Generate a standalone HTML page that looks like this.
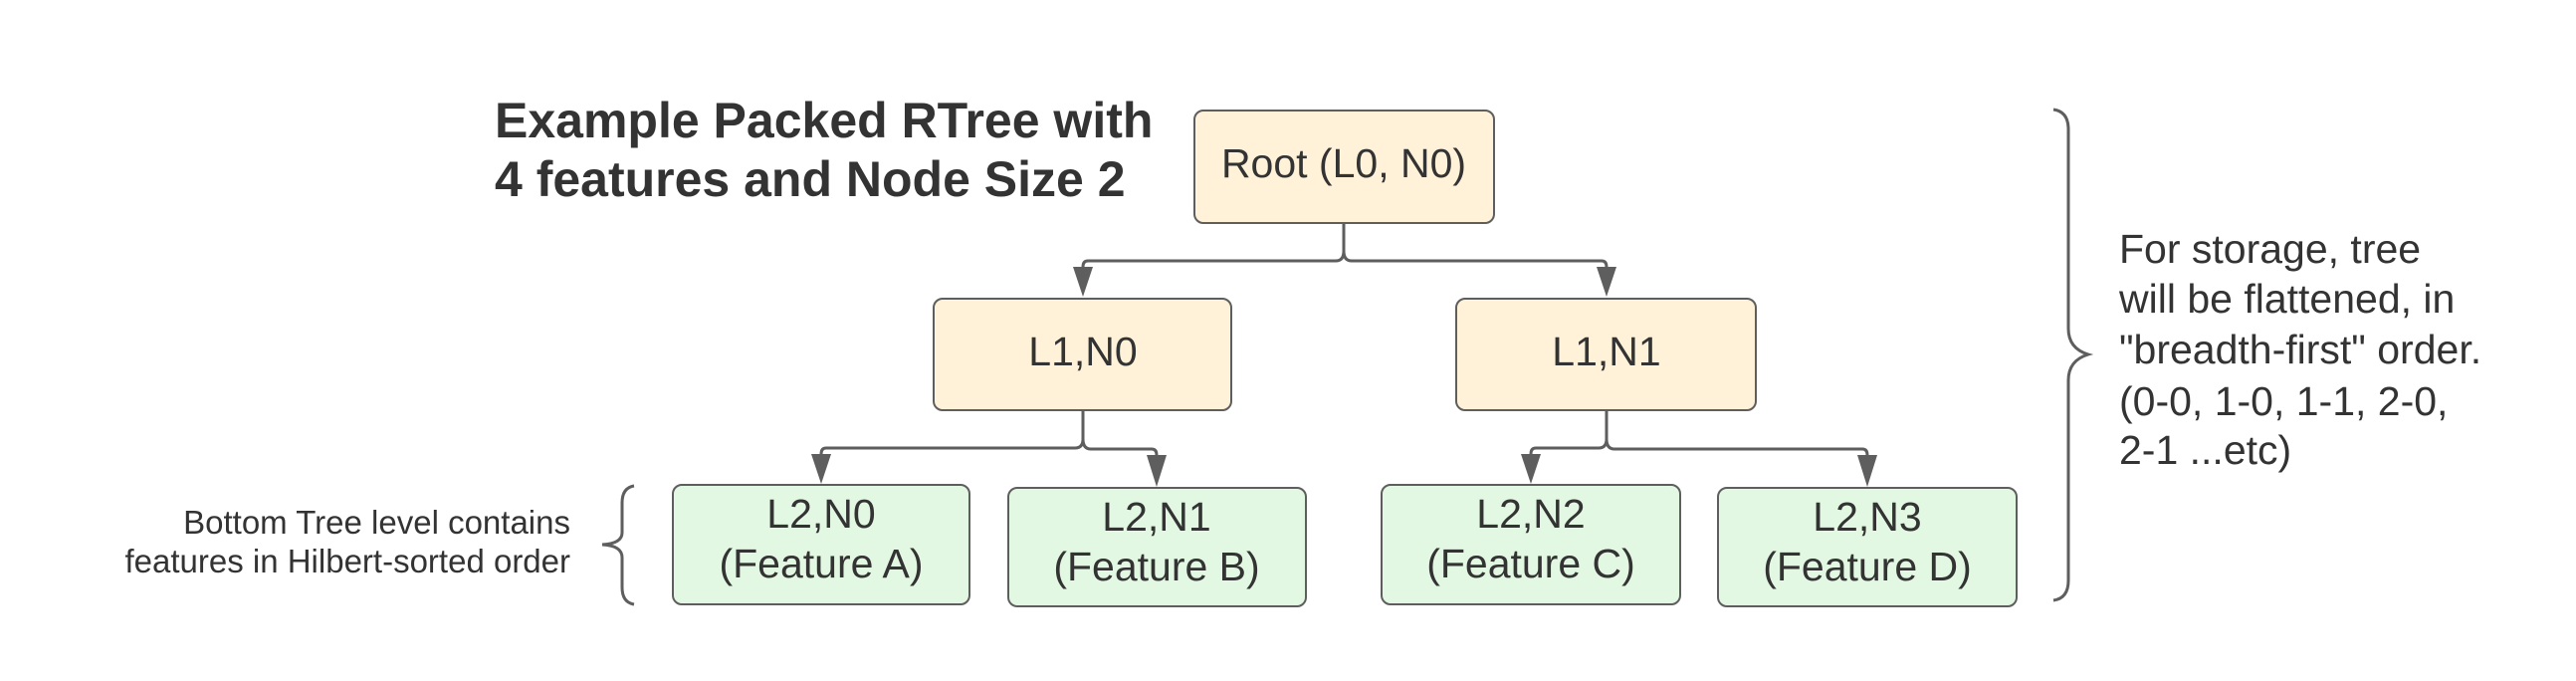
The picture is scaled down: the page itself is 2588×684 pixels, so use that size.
<!DOCTYPE html>
<html><head><meta charset="utf-8"><style>
html,body{margin:0;padding:0;background:#fff;}
svg{display:block;}
text{font-family:"Liberation Sans",Arial,sans-serif;fill:#333;}
</style></head><body>
<svg width="2588" height="684" viewBox="0 0 2588 684" xmlns="http://www.w3.org/2000/svg">
<rect width="2588" height="684" fill="#fff"/>
<g font-weight="bold" font-size="50">
<text x="497" y="138">Example Packed RTree with</text>
<text x="497" y="197">4 features and Node Size 2</text>
</g>
<g stroke="#5e5e5e" stroke-width="2">
<rect x="1200" y="111" width="301" height="113" rx="9" fill="#fff2d9"/>
<rect x="938" y="300" width="299" height="112" rx="9" fill="#fff2d9"/>
<rect x="1463" y="300" width="301" height="112" rx="9" fill="#fff2d9"/>
<rect x="676" y="487" width="298" height="120" rx="9" fill="#e2f8e2"/>
<rect x="1013" y="490" width="299" height="119" rx="9" fill="#e2f8e2"/>
<rect x="1388" y="487" width="300" height="120" rx="9" fill="#e2f8e2"/>
<rect x="1726" y="490" width="300" height="119" rx="9" fill="#e2f8e2"/>
</g>
<g stroke="#5e5e5e" stroke-width="3" fill="none">
<path d="M1350 224 V252 Q1350 262 1342 262 H1093 Q1088 262 1088 268"/>
<path d="M1350 252 Q1350 262 1358 262 H1609 Q1614 262 1614 268"/>
<path d="M1088 412 V441 Q1088 450 1080 450 H830 Q825 450 825 456"/>
<path d="M1088 441 Q1088 451 1096 451 H1157 Q1162 451 1162 457"/>
<path d="M1614 412 V441 Q1614 450 1606 450 H1543 Q1538 450 1538 456"/>
<path d="M1614 441 Q1614 451 1622 451 H1871 Q1876 451 1876 457"/>
<path d="M637 488 Q625 490 625 505 V535 Q625 546 605 547 Q625 548 625 560 V590 Q625 605 637 607"/>
<path d="M2063 110 Q2078 112 2078 130 V330 Q2078 350 2098 356 Q2078 362 2078 382 V583 Q2078 601 2063 603"/>
</g>
<g fill="#5e5e5e">
<path d="M1078 268 H1098 L1088 298 Z"/>
<path d="M1604 268 H1624 L1614 298 Z"/>
<path d="M815 456 H835 L825 486 Z"/>
<path d="M1152 457 H1172 L1162 489 Z"/>
<path d="M1528 456 H1548 L1538 486 Z"/>
<path d="M1866 457 H1886 L1876 489 Z"/>
</g>
<g font-size="41" text-anchor="middle">
<text x="1350" y="178">Root (L0, N0)</text>
<text x="1088" y="367">L1,N0</text>
<text x="1614" y="367">L1,N1</text>
<text x="825" y="530">L2,N0</text>
<text x="825" y="580">(Feature A)</text>
<text x="1162" y="533">L2,N1</text>
<text x="1162" y="583">(Feature B)</text>
<text x="1538" y="530">L2,N2</text>
<text x="1538" y="580">(Feature C)</text>
<text x="1876" y="533">L2,N3</text>
<text x="1876" y="583">(Feature D)</text>
</g>
<g font-size="33" text-anchor="end">
<text x="573" y="536">Bottom Tree level contains</text>
<text x="573" y="575">features in Hilbert-sorted order</text>
</g>
<g font-size="41">
<text x="2129" y="264">For storage, tree</text>
<text x="2129" y="314">will be flattened, in</text>
<text x="2129" y="365">"breadth-first" order.</text>
<text x="2129" y="417">(0-0, 1-0, 1-1, 2-0,</text>
<text x="2129" y="466">2-1 ...etc)</text>
</g>
</svg>
</body></html>
